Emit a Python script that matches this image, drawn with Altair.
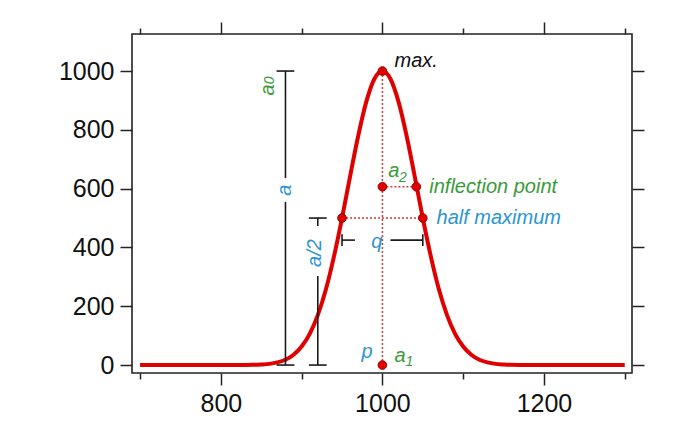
import altair as alt
import pandas as pd

# ---------------- data ----------------
curve_x = [700, 750, 800, 820, 840, 850, 860, 870, 880, 890, 900, 910, 920, 930, 940,
           950, 960, 970, 980, 990, 1000, 1010, 1020, 1030, 1040, 1050, 1060, 1070,
           1080, 1090, 1100, 1110, 1120, 1130, 1140, 1150, 1160, 1180, 1200, 1250, 1300]
curve_y = [0, 0, 0, 0.1, 0.8, 2, 4, 9, 18, 35, 63, 106, 170, 257, 369,
           500, 642, 779, 895, 973, 1000, 973, 895, 779, 642, 500, 369, 257,
           170, 106, 63, 35, 18, 9, 4, 2, 0.8, 0.1, 0, 0, 0]

point_x = [1000, 1000, 1042, 950, 1050, 1000]
point_y = [1000, 606.5, 606.5, 500, 500, 0]

dot_x = [1000, 1000, 950]
dot_x2 = [1000, 1042, 1050]
dot_y = [0, 606.5, 500]
dot_y2 = [1000, 606.5, 500]

# black bracket segments
br_x = [880, 880, 920, 920, 869, 869, 909, 909, 950, 1010, 950, 1050]
br_x2 = [880, 880, 920, 920, 891, 891, 931, 931, 966, 1050, 950, 1050]
br_y = [1000, 555, 500, 303, 1000, 0, 500, 0, 425, 425, 405, 405]
br_y2 = [636, 0, 473, 0, 1000, 0, 500, 0, 425, 425, 445, 445]

# annotations
GREEN = "#3a9a3a"
BLUE = "#2b95d2"
left_text = ["max.", "inflection point", "half maximum"]
left_x = [1015, 1058, 1067]
left_y = [1014, 585, 480]
left_color = ["#111111", GREEN, BLUE]

c_text = ["a", "2", "a", "1", "p", "q"]
c_x = [1014, 1025.5, 1022, 1033.5, 981, 993]
c_y = [640, 623, 11, -3, 25, 398]
c_color = [GREEN, GREEN, GREEN, GREEN, BLUE, BLUE]
c_size = [20, 14, 20, 14, 20, 20]

r_text = ["a", "0", "a", "a/2"]
r_x = [858, 861, 879, 917]
r_y = [936, 968, 595, 381]
r_color = [GREEN, GREEN, BLUE, BLUE]
r_size = [20, 14, 20, 20]

x_major = [800, 1000, 1200]
x_minor = [700, 900, 1100, 1300]
y_ticks = [0, 200, 400, 600, 800, 1000]

# ---------------- chart ----------------
RED = "#e00000"
FONT = "Liberation Sans"

xs = alt.Scale(domain=[690, 1309], nice=False, zero=False)
ys = alt.Scale(domain=[-27, 1126], nice=False, zero=False)

curve_df = pd.DataFrame({"x": curve_x, "y": curve_y})


def ax(orient, values, size, labels):
    kw = dict(orient=orient, values=values, tickSize=size, labels=labels, grid=False,
              domain=False, title="", tickColor="#222222", tickWidth=1.5)
    if labels:
        kw.update(labelFontSize=25, labelFont=FONT, labelColor="#111111",
                  labelPadding=6, format="d")
    return alt.Axis(**kw)


curve = alt.Chart(curve_df).mark_line(color=RED, strokeWidth=4, interpolate="monotone").encode(
    x=alt.X("x:Q", scale=xs, axis=ax("bottom", x_major, 12, True)),
    y=alt.Y("y:Q", scale=ys, axis=ax("left", y_ticks, 12, True)),
)
axB = alt.Chart(curve_df).mark_line(opacity=0).encode(
    x=alt.X("x:Q", scale=xs, axis=ax("bottom", x_minor, 6, False)),
    y=alt.Y("y:Q", scale=ys, axis=ax("right", y_ticks, 12, False)),
)
axC = alt.Chart(curve_df).mark_line(opacity=0).encode(
    x=alt.X("x:Q", scale=xs, axis=ax("top", x_major, 12, False)),
    y=alt.Y("y:Q", scale=ys, axis=None),
)
axD = alt.Chart(curve_df).mark_line(opacity=0).encode(
    x=alt.X("x:Q", scale=xs, axis=ax("top", x_minor, 6, False)),
    y=alt.Y("y:Q", scale=ys, axis=None),
)

dot_df = pd.DataFrame({"x": dot_x, "x2": dot_x2, "y": dot_y, "y2": dot_y2})
dotted = alt.Chart(dot_df).mark_rule(color="#d23a3a", strokeWidth=1.5, strokeDash=[2, 2]).encode(
    x=alt.X("x:Q", scale=xs, axis=None), x2="x2:Q",
    y=alt.Y("y:Q", scale=ys, axis=None), y2="y2:Q",
)

br_df = pd.DataFrame({"x": br_x, "x2": br_x2, "y": br_y, "y2": br_y2})
brackets = alt.Chart(br_df).mark_rule(color="#1a1a1a", strokeWidth=1.6).encode(
    x=alt.X("x:Q", scale=xs, axis=None), x2="x2:Q",
    y=alt.Y("y:Q", scale=ys, axis=None), y2="y2:Q",
)

pt_df = pd.DataFrame({"x": point_x, "y": point_y})
points = alt.Chart(pt_df).mark_point(filled=True, size=75, fill=RED, stroke="#9a0000",
                                     strokeWidth=1, opacity=1, shape="circle").encode(
    x=alt.X("x:Q", scale=xs, axis=None),
    y=alt.Y("y:Q", scale=ys, axis=None),
)

lt_df = pd.DataFrame({"x": left_x, "y": left_y, "t": left_text, "c": left_color})
ltext = alt.Chart(lt_df).mark_text(align="left", baseline="alphabetic", font=FONT,
                                   fontStyle="italic", fontSize=20).encode(
    x=alt.X("x:Q", scale=xs, axis=None),
    y=alt.Y("y:Q", scale=ys, axis=None),
    text="t:N", color=alt.Color("c:N", scale=None),
)

ct_df = pd.DataFrame({"x": c_x, "y": c_y, "t": c_text, "c": c_color, "s": c_size})
ctext = alt.Chart(ct_df).mark_text(align="center", baseline="alphabetic", font=FONT,
                                   fontStyle="italic").encode(
    x=alt.X("x:Q", scale=xs, axis=None),
    y=alt.Y("y:Q", scale=ys, axis=None),
    text="t:N", color=alt.Color("c:N", scale=None), size=alt.Size("s:Q", scale=None),
)

rt_df = pd.DataFrame({"x": r_x, "y": r_y, "t": r_text, "c": r_color, "s": r_size})
rtext = alt.Chart(rt_df).mark_text(align="center", baseline="middle", font=FONT,
                                   fontStyle="italic", angle=270).encode(
    x=alt.X("x:Q", scale=xs, axis=None),
    y=alt.Y("y:Q", scale=ys, axis=None),
    text="t:N", color=alt.Color("c:N", scale=None), size=alt.Size("s:Q", scale=None),
)

chart = alt.layer(curve, axB, axC, axD, dotted, brackets, points, ltext, ctext, rtext).resolve_axis(
    x="independent", y="independent"
).properties(
    width=500, height=339,
    padding={"left": 132, "top": 34, "right": 50, "bottom": 74},
    autosize=alt.AutoSizeParams(type="none"),
    background="white",
).configure_view(stroke="#222222", strokeWidth=1.6)

chart.save("out.html", embed_options={"renderer": "svg", "actions": False})
